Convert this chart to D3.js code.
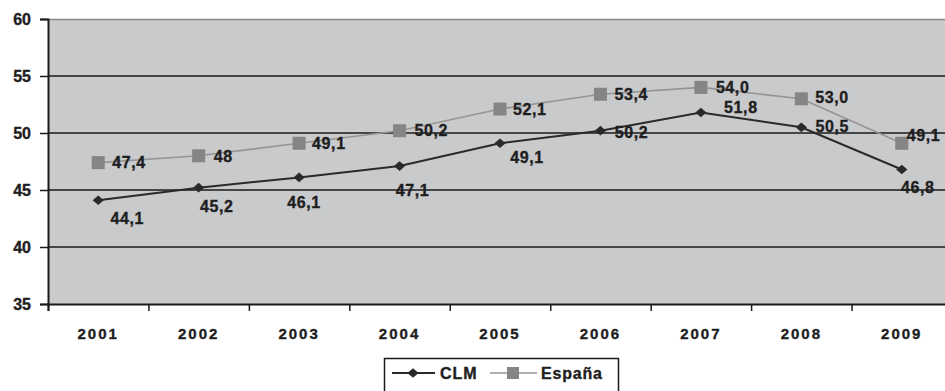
<!DOCTYPE html>
<html><head><meta charset="utf-8">
<script src="https://cdn.jsdelivr.net/npm/d3@7"></script>
<style>
html,body{margin:0;padding:0;background:#fff;}
svg{display:block;}
text{font-family:"Liberation Sans",Arial,sans-serif;font-weight:bold;fill:#1e1e1e;stroke:#1e1e1e;stroke-width:0.35px;}
</style></head>
<body>
<script>
const years = ["2001","2002","2003","2004","2005","2006","2007","2008","2009"];
const clm = [44.1,45.2,46.1,47.1,49.1,50.2,51.8,50.5,46.8];
const clmLabels = ["44,1","45,2","46,1","47,1","49,1","50,2","51,8","50,5","46,8"];
const espana = [47.4,48,49.1,50.2,52.1,53.4,54.0,53.0,49.1];
const espanaLabels = ["47,4","48","49,1","50,2","52,1","53,4","54,0","53,0","49,1"];
const yTicks = [35,40,45,50,55,60];
const seriesNames = ["CLM","España"];

// label placement (layout, not data)
const clmLabelOff = [[29,18],[18,19],[5,25],[13,24],[27,14],[31,2],[40,-5],[31,-1],[16,18]];
const espLabelOff = [[14,0],[15,0],[13,0],[15,0],[13,0],[14,0],[15,0],[14,-2],[5,-8]];

const W=945,H=391;
const svg=d3.select("body").append("svg").attr("width",W).attr("height",H);
const x=d3.scaleBand().domain(years).range([48,952]).padding(0);
const y=d3.scaleLinear().domain([35,60]).range([304,19]);
const cx=d=>x(d)+x.bandwidth()/2;

// plot background
svg.append("rect").attr("x",48).attr("y",19).attr("width",910).attr("height",285).attr("fill","#c9cacc");
svg.append("line").attr("x1",48).attr("x2",W).attr("y1",19.5).attr("y2",19.5).attr("stroke","#8a8a8a").attr("stroke-width",1.5);

// gridlines
svg.append("g").selectAll("line").data(yTicks.filter(t=>t>35&&t<60)).join("line")
  .attr("x1",48).attr("x2",W).attr("y1",d=>y(d)).attr("y2",d=>y(d))
  .attr("stroke","#1a1a1a").attr("stroke-width",1.5);

// y axis
const ya=svg.append("g").attr("transform","translate(48,0)")
  .call(d3.axisLeft(y).tickValues(yTicks).tickSize(8).tickPadding(9).tickFormat(d3.format("d")));
ya.select(".domain").attr("stroke","#1a1a1a").attr("stroke-width",2);
ya.selectAll(".tick line").attr("stroke","#1a1a1a").attr("stroke-width",1.5);
ya.selectAll(".tick text").style("font-size","16px").attr("fill","#1e1e1e").attr("font-family",null);

// x axis
const xb=d3.scaleLinear().domain([0,years.length]).range([48,952]);
const xa=svg.append("g").attr("transform","translate(0,304)")
  .call(d3.axisBottom(xb).tickValues(d3.range(0,years.length+1)).tickSize(7).tickFormat(""));
xa.select(".domain").attr("stroke","#1a1a1a").attr("stroke-width",2);
xa.selectAll(".tick line").attr("stroke","#1a1a1a").attr("stroke-width",1.5);
svg.append("g").selectAll("text").data(years).join("text")
  .attr("x",d=>cx(d)).attr("y",334).attr("dy","0.36em").attr("text-anchor","middle")
  .style("font-size","15px").style("letter-spacing","2px").text(d=>d);

const line=d3.line().x((d,i)=>cx(years[i])).y(d=>y(d));

// España
svg.append("path").datum(espana).attr("d",line).attr("fill","none").attr("stroke","#959595").attr("stroke-width",1.6);
svg.append("g").selectAll("rect").data(espana).join("rect")
  .attr("x",(d,i)=>cx(years[i])-6.5).attr("y",d=>y(d)-6.5).attr("width",13).attr("height",13).attr("fill","#858585");

// CLM
svg.append("path").datum(clm).attr("d",line).attr("fill","none").attr("stroke","#2a2a2a").attr("stroke-width",2);
const diamond=d3.symbol().type(d3.symbolDiamond2).size(60);
svg.append("g").selectAll("path").data(clm).join("path")
  .attr("d",diamond).attr("transform",(d,i)=>`translate(${cx(years[i])},${y(d)}) scale(1.15,1)`).attr("fill","#2a2a2a");

// labels
svg.append("g").selectAll("text").data(espana).join("text")
  .attr("x",(d,i)=>cx(years[i])+espLabelOff[i][0]).attr("y",(d,i)=>y(d)+espLabelOff[i][1])
  .attr("dy","0.36em").attr("text-anchor","start").style("font-size","16px").style("letter-spacing","0.6px")
  .text((d,i)=>espanaLabels[i]);
svg.append("g").selectAll("text").data(clm).join("text")
  .attr("x",(d,i)=>cx(years[i])+clmLabelOff[i][0]).attr("y",(d,i)=>y(d)+clmLabelOff[i][1])
  .attr("dy","0.36em").attr("text-anchor","middle").style("font-size","16px").style("letter-spacing","0.6px")
  .text((d,i)=>clmLabels[i]);

// legend
const lg=svg.append("g");
lg.append("rect").attr("x",384.5).attr("y",358.5).attr("width",234).attr("height",40).attr("fill","#fff").attr("stroke","#1a1a1a").attr("stroke-width",1.5);
lg.append("line").attr("x1",392).attr("x2",435).attr("y1",373).attr("y2",373).attr("stroke","#2a2a2a").attr("stroke-width",2);
lg.append("path").attr("d",diamond).attr("transform","translate(413,373) scale(1.15,1)").attr("fill","#2a2a2a");
lg.append("text").attr("x",440).attr("y",373).attr("dy","0.36em").style("font-size","16px").style("letter-spacing","1px").text(seriesNames[0]);
lg.append("line").attr("x1",490).attr("x2",537).attr("y1",373).attr("y2",373).attr("stroke","#959595").attr("stroke-width",1.6);
lg.append("rect").attr("x",507).attr("y",367).attr("width",12).attr("height",12).attr("fill","#858585");
lg.append("text").attr("x",541).attr("y",373).attr("dy","0.36em").style("font-size","16px").style("letter-spacing","0.8px").text(seriesNames[1]);
</script>
</body></html>
